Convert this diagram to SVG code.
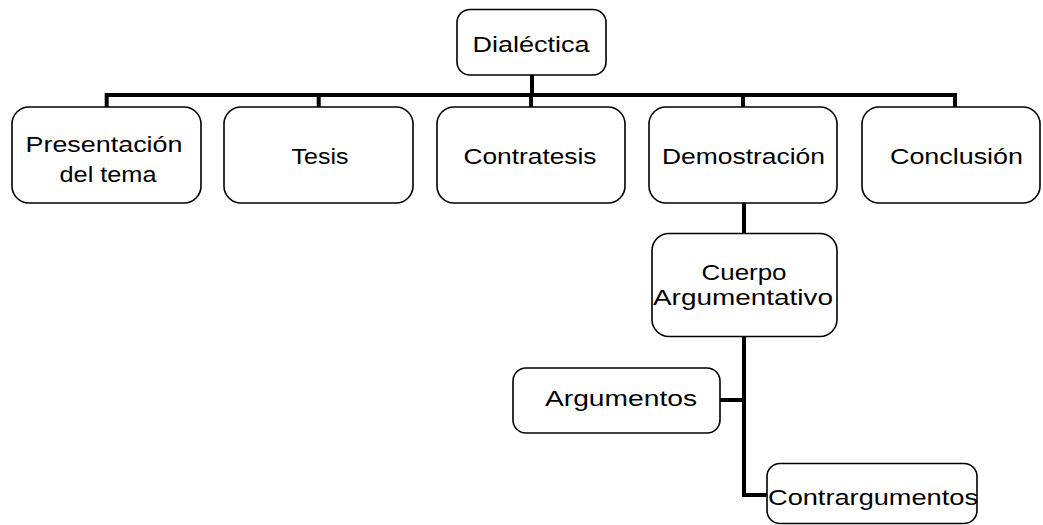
<svg xmlns="http://www.w3.org/2000/svg" width="1043" height="525" viewBox="0 0 1043 525">
<style>
.box{fill:#fff;stroke:#000;stroke-width:1.6}
.lbl{font-family:"Liberation Sans",Arial,sans-serif;font-size:22px;fill:#000;text-anchor:middle}
.con{fill:none;stroke:#000;stroke-width:4;stroke-linejoin:miter;stroke-linecap:butt}
</style>
<rect width="1043" height="525" fill="#fff"/>
<g id="connectors">
<path class="con" d="M532 75V95M106.7 95H957M106.7 93V107M318.7 93V107M531 93V107M743 93V107M955 93V107"/>
<path class="con" d="M744 203V233"/>
<path class="con" d="M744 337V495H767M720 400H744"/>
</g>
<g id="n-dialectica"><rect class="box" x="457" y="9.5" width="149" height="65.5" rx="13"/><text class="lbl" x="531" y="52" font-size="23" textLength="117" lengthAdjust="spacingAndGlyphs">Dialéctica</text></g>
<g id="n-presentacion"><rect class="box" x="12" y="107" width="189" height="96" rx="17"/><text class="lbl" x="104" y="152" textLength="157" lengthAdjust="spacingAndGlyphs">Presentación</text><text class="lbl" x="108" y="181.5" textLength="97" lengthAdjust="spacingAndGlyphs">del tema</text></g>
<g id="n-tesis"><rect class="box" x="224" y="107" width="189" height="96" rx="17"/><text class="lbl" x="320" y="164" textLength="57" lengthAdjust="spacingAndGlyphs">Tesis</text></g>
<g id="n-contratesis"><rect class="box" x="437" y="107" width="188" height="96" rx="17"/><text class="lbl" x="530" y="164" textLength="133" lengthAdjust="spacingAndGlyphs">Contratesis</text></g>
<g id="n-demostracion"><rect class="box" x="649" y="107" width="188" height="96" rx="17"/><text class="lbl" x="743.5" y="164" textLength="163" lengthAdjust="spacingAndGlyphs">Demostración</text></g>
<g id="n-conclusion"><rect class="box" x="862" y="107" width="178" height="96" rx="17"/><text class="lbl" x="956.5" y="164" textLength="133" lengthAdjust="spacingAndGlyphs">Conclusión</text></g>
<g id="n-cuerpo"><rect class="box" x="652" y="233.5" width="185" height="103" rx="17"/><text class="lbl" x="744" y="280" font-size="21" textLength="85" lengthAdjust="spacingAndGlyphs">Cuerpo</text><text class="lbl" x="743" y="305" font-size="21" textLength="180" lengthAdjust="spacingAndGlyphs">Argumentativo</text></g>
<g id="n-argumentos"><rect class="box" x="513" y="368" width="207" height="65" rx="13"/><text class="lbl" x="621" y="406" textLength="152" lengthAdjust="spacingAndGlyphs">Argumentos</text></g>
<g id="n-contrargumentos"><rect class="box" x="767" y="463.5" width="210" height="60" rx="13"/><text class="lbl" x="873" y="505" textLength="210" lengthAdjust="spacingAndGlyphs">Contrargumentos</text></g>
</svg>
